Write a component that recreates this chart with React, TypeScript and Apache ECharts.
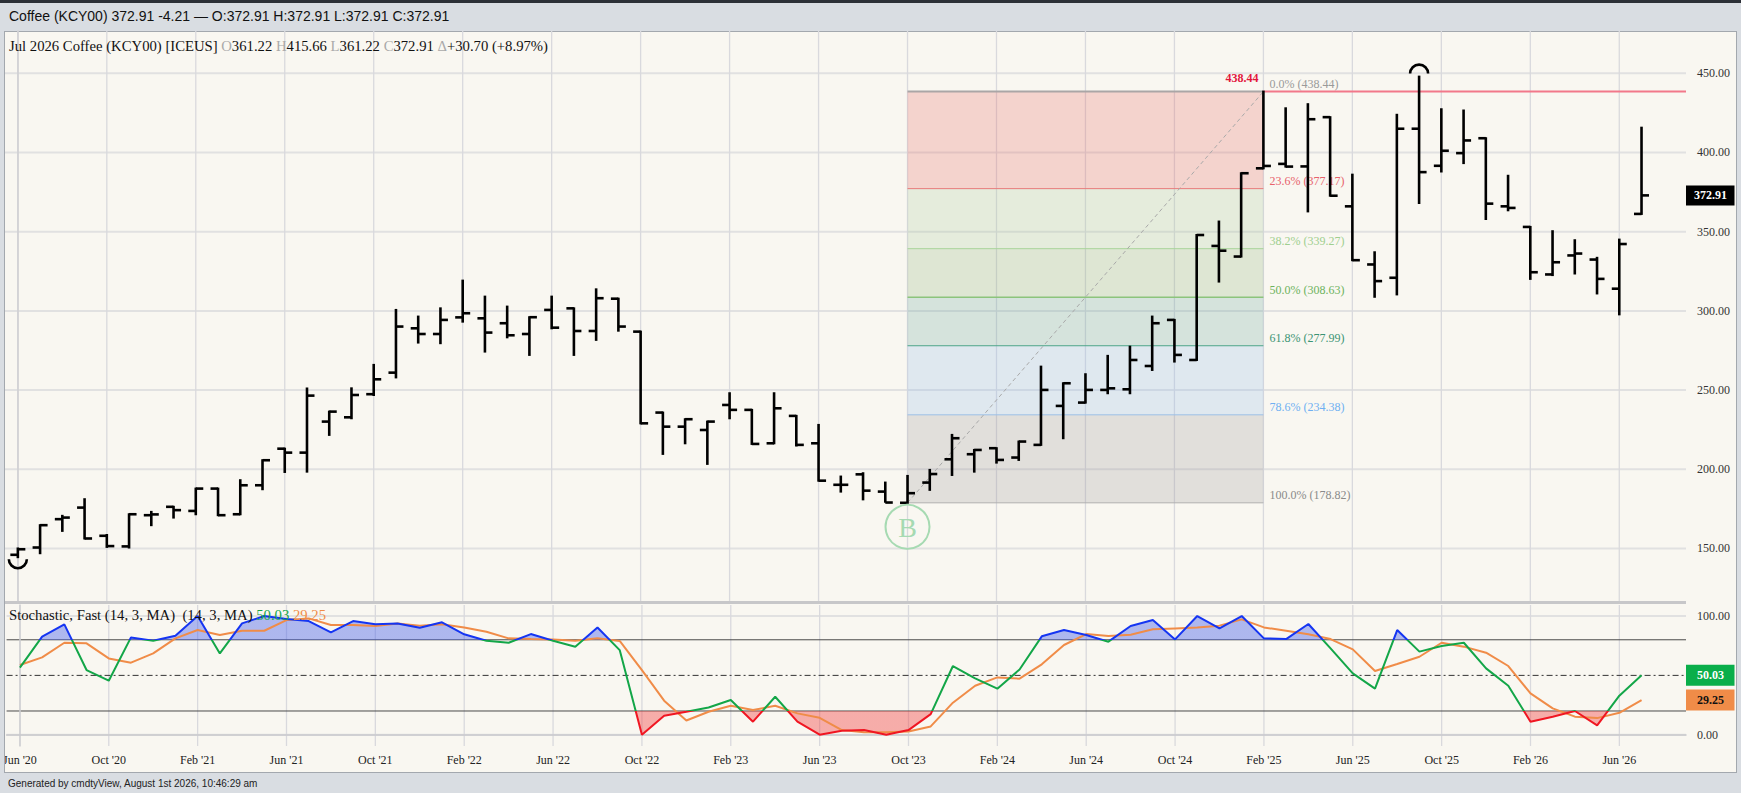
import React, { useEffect, useRef } from "react";
import * as echarts from "echarts";

// ---------- DATA ----------
const months = [
  "2020-06","2020-07","2020-08","2020-09","2020-10","2020-11","2020-12",
  "2021-01","2021-02","2021-03","2021-04","2021-05","2021-06","2021-07","2021-08","2021-09","2021-10","2021-11","2021-12",
  "2022-01","2022-02","2022-03","2022-04","2022-05","2022-06","2022-07","2022-08","2022-09","2022-10","2022-11","2022-12",
  "2023-01","2023-02","2023-03","2023-04","2023-05","2023-06","2023-07","2023-08","2023-09","2023-10","2023-11","2023-12",
  "2024-01","2024-02","2024-03","2024-04","2024-05","2024-06","2024-07","2024-08","2024-09","2024-10","2024-11","2024-12",
  "2025-01","2025-02","2025-03","2025-04","2025-05","2025-06","2025-07","2025-08","2025-09","2025-10","2025-11","2025-12",
  "2026-01","2026-02","2026-03","2026-04","2026-05","2026-06","2026-07",
];

const opens = [
  146, 150.6, 168.5, 175.8, 158, 151.3, 171,
  176.3, 173.7, 187.8, 171.6, 189.9, 213, 210.5, 230.1, 232.8, 247.4, 261, 289,
  285.4, 295.9, 295.3, 292.2, 285.4, 300.6, 301.6, 287.3, 307.7, 286.9, 235.8, 226.9,
  224.8, 240.6, 237.5, 216.4, 233.7, 216.4, 190.2, 196.8, 185.9, 178.82, 191.6, 206.3,
  209.5, 213.3, 207.4, 215.4, 240, 242.1, 250.1, 250.5, 265.2, 294.3, 269, 341,
  334.3, 390, 392.8, 391.2, 422.3, 366, 329.3, 320.9, 415, 391.6, 399.6, 409,
  366, 353, 323, 335, 332.4, 314, 361.22,
];
const highs = [
  150, 164.7, 170.6, 181.1, 158.5, 171.6, 173.1,
  176.3, 187.8, 187.8, 193.1, 205.7, 213, 251, 236.4, 251.1, 265.9, 300.6, 296.4,
  301.6, 319.1, 309, 302.7, 296, 309, 301.6, 313.6, 307.7, 286.9, 235.8, 231.6,
  230.1, 248, 237.5, 248, 233.7, 228, 195.4, 197.5, 191.6, 195.8, 199.6, 221.7,
  212.2, 213.3, 217.5, 264.8, 254.3, 260, 271.6, 277.4, 296.4, 294.3, 347.9, 356.4,
  386.9, 438.44, 427.9, 430.5, 422.3, 386, 337, 423.8, 447.9, 427.3, 426.5, 409,
  385.3, 353, 350.3, 344.6, 333.5, 345, 415.66,
];
const lows = [
  144.5, 147, 161.1, 156.3, 151, 150.6, 164.7,
  169.5, 171.6, 171, 171.6, 187.4, 198.3, 198.5, 221.7, 232.2, 246.9, 258, 280,
  279.6, 293.2, 274.3, 283.3, 272.2, 289, 272.2, 281.7, 287.5, 229, 209.7, 216.4,
  203.4, 232.2, 216, 216.4, 215, 192.8, 185.9, 181, 179.5, 178.82, 187, 196.4,
  198.5, 204.2, 205.9, 215.4, 219.6, 242.1, 248, 248, 262.7, 268, 269, 318.5,
  334.3, 390, 391.1, 362.8, 372.7, 332, 308.9, 310.4, 368.1, 388, 393.3, 358,
  363.5, 320.2, 322.6, 323.6, 311, 297.8, 361.22,
];
const closes = [
  149.5, 164.7, 169.5, 156.3, 151.5, 171.6, 171.5,
  174.2, 187.8, 171, 189.9, 205.7, 210.5, 246.5, 236.4, 246.9, 256.8, 290.1, 285.4,
  294.3, 298.5, 286.3, 284.6, 296, 289.4, 287.3, 308, 290.1, 229, 226.9, 231.6,
  230.1, 237.5, 216, 238.5, 215.4, 192.8, 190.2, 186.5, 179, 184.9, 197, 219.6,
  212.2, 205.9, 217.5, 250.1, 254.3, 250.1, 251.1, 269, 292.2, 272.2, 347.9, 338,
  386.9, 391.5, 391.1, 421, 372.7, 332, 318.8, 415, 387.6, 401.1, 407.6, 367.7,
  365, 324.4, 330.7, 336.2, 320.2, 342.21, 372.91,
];

const stochK = [
  56.5, 82.6, 93, 54.5, 45.5, 82, 79.2,
  83.4, 100, 68.5, 93.8, 100, 97.5, 95.8, 86.2, 95.8, 93, 93.8, 90.2,
  94.7, 84.6, 79.2, 77.5, 84.8, 79.2, 74.2, 90.4, 71.3, 0, 16, 19.4,
  23, 29.2, 11, 32, 11, 0, 3.4, 3.9, 0, 3.9, 17.4, 57.9,
  47.5, 38.8, 55, 82.9, 88.2, 84, 78.4, 91.6, 96.6, 80.3, 100, 89.6,
  100, 81.2, 80.6, 93.3, 72.8, 51.7, 38.8, 88.2, 70, 74.7, 77.5, 55.9,
  41.3, 11, 15.2, 20, 7.9, 32.9, 50.03,
];
const stochD = [
  58.7, 65.2, 77.5, 77, 64.3, 60.7, 68.5,
  81.2, 88.2, 84, 87.6, 87.6, 96.6, 98, 92.4, 92.4, 91.6, 93.8, 91.9,
  93, 90.4, 86.8, 81.2, 80.6, 80.3, 79.2, 81.2, 79, 54.5, 28.7, 12,
  19.4, 24.4, 20.8, 24.4, 18, 14.3, 3.9, 2, 2, 2.8, 7, 27,
  41.3, 48.3, 47.2, 59.3, 75.6, 84.8, 83.1, 84.3, 88.8, 89.6, 90.4, 91.9,
  97.2, 90.4, 87.6, 84.6, 80.6, 71.9, 53.7, 59.6, 65.7, 77.5, 74.2, 69.1,
  57.9, 34.8, 22.2, 15.2, 14, 18.5, 29.25,
];

const xTickMonths = [
  "2020-06","2020-10","2021-02","2021-06","2021-10","2022-02","2022-06","2022-10",
  "2023-02","2023-06","2023-10","2024-02","2024-06","2024-10","2025-02","2025-06",
  "2025-10","2026-02","2026-06",
];
const xTickLabels = [
  "Jun '20","Oct '20","Feb '21","Jun '21","Oct '21","Feb '22","Jun '22","Oct '22",
  "Feb '23","Jun '23","Oct '23","Feb '24","Jun '24","Oct '24","Feb '25","Jun '25",
  "Oct '25","Feb '26","Jun '26",
];
const priceTicks = [150, 200, 250, 300, 350, 400, 450];
const stochTicks = [0, 100];
const stochBands = [20, 80];
const stochMid = [50];

const fibPcts = ["0.0%", "23.6%", "38.2%", "50.0%", "61.8%", "78.6%", "100.0%"];
const fibValues = [438.44, 377.17, 339.27, 308.63, 277.99, 234.38, 178.82];
const fibFromMonth = "2023-10";
const fibToMonth = "2025-02";

const lowArcMonths = ["2020-06"];
const highArcMonths = ["2025-09"];
const buyMonths = ["2023-10"];

const topBarText = "Coffee (KCY00) 372.91 -4.21 \u2014 O:372.91 H:372.91 L:372.91 C:372.91";
const contractName = "Jul 2026 Coffee (KCY00) [ICEUS]";
const stochName = "Stochastic, Fast (14, 3, MA)  (14, 3, MA)";
const footerText = "Generated by cmdtyView, August 1st 2026, 10:46:29 am";

// ---------- STYLES ----------
const SERIF = '"Liberation Serif", "Times New Roman", serif';
const SANS = '"Liberation Sans", Arial, sans-serif';
const TITLE_FONT = `14.7px ${SERIF}`;
const fibFills = [
  "rgba(233,103,100,0.25)",
  "rgba(173,203,160,0.25)",
  "rgba(145,179,124,0.25)",
  "rgba(109,167,160,0.25)",
  "rgba(149,187,236,0.25)",
  "rgba(157,151,156,0.25)",
];
const fibLineColors = ["#aaa6a6", "#e87a7a", "#a8d49a", "#8cc47c", "#4ea58a", "#9cc0e8", "#b0b0b0"];
const fibLineWidths = [2, 1, 1, 1.6, 1, 1, 1];
const fibLabelColors = ["#9a9a9a", "#e8626c", "#9fcf8f", "#6db35d", "#3b9474", "#6fb0f2", "#8a8a8a"];

const X_MIN = -0.6;
const X_MAX = 75;

function buildOption() {
  const idx = (m: string) => months.indexOf(m);
  const xTickIdx = xTickMonths.map(idx);
  const fibFrom = idx(fibFromMonth);
  const fibTo = idx(fibToMonth);
  const lowArcIdx = lowArcMonths.map(idx);
  const highArcIdx = highArcMonths.map(idx);
  const buyIdx = buyMonths.map(idx);
  const last = months.length - 1;

  const ohlcData = months.map((_, i) => [i, opens[i], highs[i], lows[i], closes[i]]);
  const kData = stochK.map((v, i) => [i, v]);
  const dData = stochD.map((v, i) => [i, v]);

  const barStyle = { stroke: "#000", lineWidth: 2.6 };

  const priceGridData = [
    ...priceTicks.map((v) => [0, v]),
    ...xTickIdx.map((v) => [1, v]),
  ];
  const stochGridData = [
    ...stochTicks.map((v) => [0, v]),
    ...xTickIdx.map((v) => [1, v]),
    ...stochBands.map((v) => [2, v]),
    ...stochMid.map((v) => [3, v]),
  ];

  const gridRender = (params: any, api: any) => {
    const cs = params.coordSys;
    const kind = api.value(0);
    const v = api.value(1);
    if (kind === 1) {
      const x = api.coord([v, 0])[0];
      return {
        type: "line",
        shape: { x1: x, y1: cs.y, x2: x, y2: cs.y + cs.height },
        style: { stroke: "#d9d9dd", lineWidth: 1.3 },
      };
    }
    const y = api.coord([0, v])[1];
    if (kind === 0) {
      return {
        type: "line",
        shape: { x1: cs.x, y1: y, x2: cs.x + cs.width, y2: y },
        style: { stroke: "#e1e1e1", lineWidth: 2 },
      };
    }
    if (kind === 2) {
      return {
        type: "line",
        shape: { x1: cs.x, y1: y, x2: cs.x + cs.width, y2: y },
        style: { stroke: "#4a4a4a", lineWidth: 1 },
      };
    }
    return {
      type: "line",
      shape: { x1: cs.x, y1: y, x2: cs.x + cs.width, y2: y },
      style: { stroke: "#333", lineWidth: 1, lineDash: [6, 3, 2, 3] },
    };
  };

  const fmt = (v: number) => v.toFixed(2);
  const chg = closes[last] - closes[last - 1];
  const pct = (chg / closes[last - 1]) * 100;

  return {
    animation: false,
    backgroundColor: "transparent",
    grid: [
      { left: 4.5, top: 31, width: 1681.5, height: 571 },
      { left: 4.5, top: 605, width: 1681.5, height: 141 },
    ],
    xAxis: [
      { type: "value", gridIndex: 0, min: X_MIN, max: X_MAX, show: false },
      {
        type: "value",
        gridIndex: 1,
        min: X_MIN,
        max: X_MAX,
        axisLine: { show: true, lineStyle: { color: "#c9c9cc", width: 1.5 } },
        axisTick: { show: false },
        splitLine: { show: false },
        axisLabel: {
          customValues: xTickIdx,
          formatter: (v: number) => xTickLabels[xTickIdx.indexOf(Math.round(v))] ?? "",
          color: "#222",
          fontFamily: SERIF,
          fontSize: 12,
          margin: 8,
        },
      },
    ],
    yAxis: [
      {
        type: "value",
        gridIndex: 0,
        position: "right",
        min: 116.2,
        max: 476.7,
        axisLine: { show: true, lineStyle: { color: "#cfcfd2", width: 1.5 } },
        axisTick: { show: false },
        splitLine: { show: false },
        axisLabel: {
          customValues: priceTicks,
          formatter: (v: number) => v.toFixed(2),
          color: "#333",
          fontFamily: SERIF,
          fontSize: 12,
          margin: 11,
        },
      },
      {
        type: "value",
        gridIndex: 1,
        position: "right",
        min: -9.5,
        max: 109.3,
        axisLine: { show: true, lineStyle: { color: "#cfcfd2", width: 1.5 } },
        axisTick: { show: false },
        splitLine: { show: false },
        axisLabel: {
          customValues: stochTicks,
          formatter: (v: number) => v.toFixed(2),
          color: "#333",
          fontFamily: SERIF,
          fontSize: 12,
          margin: 11,
        },
      },
    ],
    visualMap: [
      {
        type: "piecewise",
        show: false,
        seriesIndex: 5,
        dimension: 1,
        pieces: [
          { lt: 20, color: "rgba(242,70,70,0.42)" },
          { gte: 20, lte: 80, color: "rgba(0,0,0,0)" },
          { gt: 80, color: "rgba(70,95,235,0.42)" },
        ],
      },
      {
        type: "piecewise",
        show: false,
        seriesIndex: 7,
        dimension: 1,
        pieces: [
          { lt: 20, color: "#f01622" },
          { gte: 20, lte: 80, color: "#13a648" },
          { gt: 80, color: "#1535f2" },
        ],
      },
    ],
    series: [
      // 0 price gridlines
      {
        type: "custom",
        xAxisIndex: 0,
        yAxisIndex: 0,
        z: 0,
        silent: true,
        data: priceGridData,
        renderItem: gridRender,
      },
      // 1 fibonacci
      {
        type: "custom",
        xAxisIndex: 0,
        yAxisIndex: 0,
        z: 1,
        silent: true,
        data: fibValues.map((v) => [fibFrom, v]),
        renderItem: (params: any, api: any) => {
          const k = params.dataIndex;
          const cs = params.coordSys;
          const v = fibValues[k];
          const pL = api.coord([fibFrom, v]);
          const pR = api.coord([fibTo, v]);
          const children: any[] = [];
          if (k < fibValues.length - 1) {
            const pB = api.coord([fibTo, fibValues[k + 1]]);
            children.push({
              type: "rect",
              shape: { x: pL[0], y: pL[1], width: pR[0] - pL[0], height: pB[1] - pL[1] },
              style: { fill: fibFills[k] },
            });
          }
          children.push({
            type: "line",
            shape: { x1: pL[0], y1: pL[1], x2: pR[0], y2: pR[1] },
            style: { stroke: fibLineColors[k], lineWidth: fibLineWidths[k] },
          });
          children.push({
            type: "text",
            x: pR[0] + 6,
            y: pR[1] - 1.5,
            style: {
              text: `${fibPcts[k]} (${fmt(v)})`,
              fill: fibLabelColors[k],
              font: `12px ${SERIF}`,
              verticalAlign: "bottom",
              align: "left",
            },
          });
          if (k === 0) {
            children.push({
              type: "line",
              shape: { x1: pR[0], y1: pR[1], x2: cs.x + cs.width, y2: pR[1] },
              style: { stroke: "#f2788a", lineWidth: 2 },
            });
            children.push({
              type: "text",
              x: pR[0] - 5,
              y: pR[1] - 14,
              style: {
                text: fmt(v),
                fill: "#e3163c",
                font: `bold 12px ${SERIF}`,
                verticalAlign: "middle",
                align: "right",
              },
            });
          }
          if (k === fibValues.length - 1) {
            const a = api.coord([fibFrom, fibValues[fibValues.length - 1]]);
            const b = api.coord([fibTo, fibValues[0]]);
            children.push({
              type: "line",
              shape: { x1: a[0], y1: a[1], x2: b[0], y2: b[1] },
              style: { stroke: "#a9a9a9", lineWidth: 1, lineDash: [4, 3] },
            });
          }
          return { type: "group", children };
        },
      },
      // 2 OHLC bars
      {
        type: "custom",
        xAxisIndex: 0,
        yAxisIndex: 0,
        z: 3,
        silent: true,
        data: ohlcData,
        encode: { x: 0, y: [1, 2, 3, 4] },
        renderItem: (params: any, api: any) => {
          const i = api.value(0);
          const o = api.coord([i, api.value(1)]);
          const h = api.coord([i, api.value(2)]);
          const l = api.coord([i, api.value(3)]);
          const c = api.coord([i, api.value(4)]);
          const children: any[] = [
            { type: "line", shape: { x1: h[0], y1: h[1] - 1, x2: l[0], y2: l[1] + 1 }, style: barStyle },
            { type: "line", shape: { x1: o[0] - 7.5, y1: o[1], x2: o[0], y2: o[1] }, style: barStyle },
            { type: "line", shape: { x1: c[0], y1: c[1], x2: c[0] + 7.5, y2: c[1] }, style: barStyle },
          ];
          const di = params.dataIndex;
          if (lowArcIdx.includes(di)) {
            children.push({
              type: "arc",
              shape: { cx: l[0], cy: l[1] + 2, r: 9, startAngle: 0, endAngle: Math.PI, clockwise: true },
              style: { stroke: "#000", lineWidth: 2.6, fill: "none" },
            });
          }
          if (highArcIdx.includes(di)) {
            children.push({
              type: "arc",
              shape: { cx: h[0], cy: h[1] - 3, r: 9, startAngle: Math.PI, endAngle: Math.PI * 2, clockwise: true },
              style: { stroke: "#000", lineWidth: 2.6, fill: "none" },
            });
          }
          if (buyIdx.includes(di)) {
            children.push({
              type: "circle",
              shape: { cx: l[0], cy: l[1] + 24, r: 22 },
              style: { stroke: "#a6dab2", lineWidth: 2, fill: "none" },
            });
            children.push({
              type: "text",
              x: l[0],
              y: l[1] + 25,
              style: {
                text: "B",
                fill: "#a6dab2",
                font: `28px ${SERIF}`,
                align: "center",
                verticalAlign: "middle",
              },
            });
          }
          return { type: "group", children };
        },
      },
      // 3 last price box
      {
        type: "custom",
        xAxisIndex: 0,
        yAxisIndex: 0,
        z: 6,
        silent: true,
        data: [[last, closes[last]]],
        renderItem: (params: any, api: any) => {
          const cs = params.coordSys;
          const y = api.coord([api.value(0), api.value(1)])[1];
          const x0 = cs.x + cs.width;
          return {
            type: "group",
            children: [
              { type: "rect", shape: { x: x0, y: y - 10, width: 48.5, height: 20 }, style: { fill: "#000" } },
              {
                type: "text",
                x: x0 + 24.5,
                y: y,
                style: {
                  text: fmt(api.value(1)),
                  fill: "#fff",
                  font: `bold 12px ${SERIF}`,
                  align: "center",
                  verticalAlign: "middle",
                },
              },
            ],
          };
        },
      },
      // 4 stoch gridlines & reference lines
      {
        type: "custom",
        xAxisIndex: 1,
        yAxisIndex: 1,
        z: 0,
        silent: true,
        data: stochGridData,
        renderItem: gridRender,
      },
      // 5 %K fill
      {
        type: "line",
        xAxisIndex: 1,
        yAxisIndex: 1,
        z: 1,
        silent: true,
        data: kData,
        symbol: "none",
        lineStyle: { width: 0, opacity: 0 },
        areaStyle: { origin: 50, opacity: 1 },
      },
      // 6 %D
      {
        type: "line",
        xAxisIndex: 1,
        yAxisIndex: 1,
        z: 3,
        silent: true,
        data: dData,
        symbol: "none",
        lineStyle: { width: 2, color: "#f08c48" },
        itemStyle: { color: "#f08c48" },
      },
      // 7 %K
      {
        type: "line",
        xAxisIndex: 1,
        yAxisIndex: 1,
        z: 4,
        silent: true,
        data: kData,
        symbol: "none",
        lineStyle: { width: 2 },
      },
      // 8 stoch value boxes
      {
        type: "custom",
        xAxisIndex: 1,
        yAxisIndex: 1,
        z: 6,
        silent: true,
        data: [
          [last, stochK[last], 0],
          [last, stochD[last], 1],
        ],
        renderItem: (params: any, api: any) => {
          const cs = params.coordSys;
          const y = api.coord([api.value(0), api.value(1)])[1];
          const x0 = cs.x + cs.width;
          const isK = api.value(2) === 0;
          return {
            type: "group",
            children: [
              {
                type: "rect",
                shape: { x: x0, y: y - 10.5, width: 48.5, height: 21 },
                style: { fill: isK ? "#0aae4a" : "#f08c48" },
              },
              {
                type: "text",
                x: x0 + 24.5,
                y: y,
                style: {
                  text: fmt(api.value(1)),
                  fill: isK ? "#fff" : "#111",
                  font: `bold 12px ${SERIF}`,
                  align: "center",
                  verticalAlign: "middle",
                },
              },
            ],
          };
        },
      },
    ],
    graphic: [
      { type: "rect", z: 100, silent: true, shape: { x: 0, y: 31, width: 4.5, height: 742 }, style: { fill: "#d9dde2" } },
      { type: "line", z: 101, silent: true, shape: { x1: 4.5, y1: 31, x2: 4.5, y2: 773 }, style: { stroke: "#a3a8ae", lineWidth: 1 } },
      { type: "rect", z: 50, silent: true, shape: { x: 4.5, y: 601, width: 1681.5, height: 3 }, style: { fill: "#c7c7c9" } },
      {
        type: "text",
        z: 50,
        silent: true,
        x: 9,
        y: 16,
        style: { text: topBarText, font: `14px ${SANS}`, fill: "#111", verticalAlign: "middle" },
      },
      {
        type: "text",
        z: 50,
        silent: true,
        x: 9,
        y: 46,
        style: {
          text:
            `{b|${contractName}} {g|O}{b|${fmt(opens[last])}} {g|H}{b|${fmt(highs[last])}} ` +
            `{g|L}{b|${fmt(lows[last])}} {g|C}{b|${fmt(closes[last])}} {g|\u0394}{b|+${fmt(chg)} (+${pct.toFixed(2)}%)}`,
          font: TITLE_FONT,
          fill: "#111",
          verticalAlign: "middle",
          rich: {
            b: { fill: "#111", font: TITLE_FONT },
            g: { fill: "#a9a9a9", font: TITLE_FONT },
          },
        },
      },
      {
        type: "text",
        z: 50,
        silent: true,
        x: 9,
        y: 615,
        style: {
          text: `{b|${stochName} }{k|${fmt(stochK[last])}}{d| ${fmt(stochD[last])}}`,
          font: TITLE_FONT,
          fill: "#111",
          verticalAlign: "middle",
          rich: {
            b: { fill: "#111", font: TITLE_FONT },
            k: { fill: "#13a648", font: TITLE_FONT },
            d: { fill: "#f08c48", font: TITLE_FONT },
          },
        },
      },
      {
        type: "text",
        z: 50,
        silent: true,
        x: 8,
        y: 783,
        style: { text: footerText, font: `10px ${SANS}`, fill: "#222", verticalAlign: "middle" },
      },
    ],
  };
}

export default function App() {
  const ref = useRef<HTMLDivElement>(null);
  useEffect(() => {
    if (!ref.current) return;
    const chart = echarts.init(ref.current, undefined, { renderer: "svg", width: 1741, height: 793 });
    chart.setOption(buildOption() as any);
    return () => chart.dispose();
  }, []);
  return (
    <div
      style={{
        position: "fixed",
        left: 0,
        top: 0,
        width: 1741,
        height: 793,
        background: "#d9dde2",
        overflow: "hidden",
      }}
    >
      <div style={{ position: "absolute", left: 0, top: 0, width: 1741, height: 3, background: "#2c3037" }} />
      <div
        style={{
          position: "absolute",
          left: 4,
          top: 31,
          width: 1733,
          height: 742,
          background: "#f9f7f1",
          boxSizing: "border-box",
          border: "1px solid #a3a8ae",
        }}
      />
      <div ref={ref} style={{ position: "absolute", left: 0, top: 0, width: 1741, height: 793 }} />
    </div>
  );
}
